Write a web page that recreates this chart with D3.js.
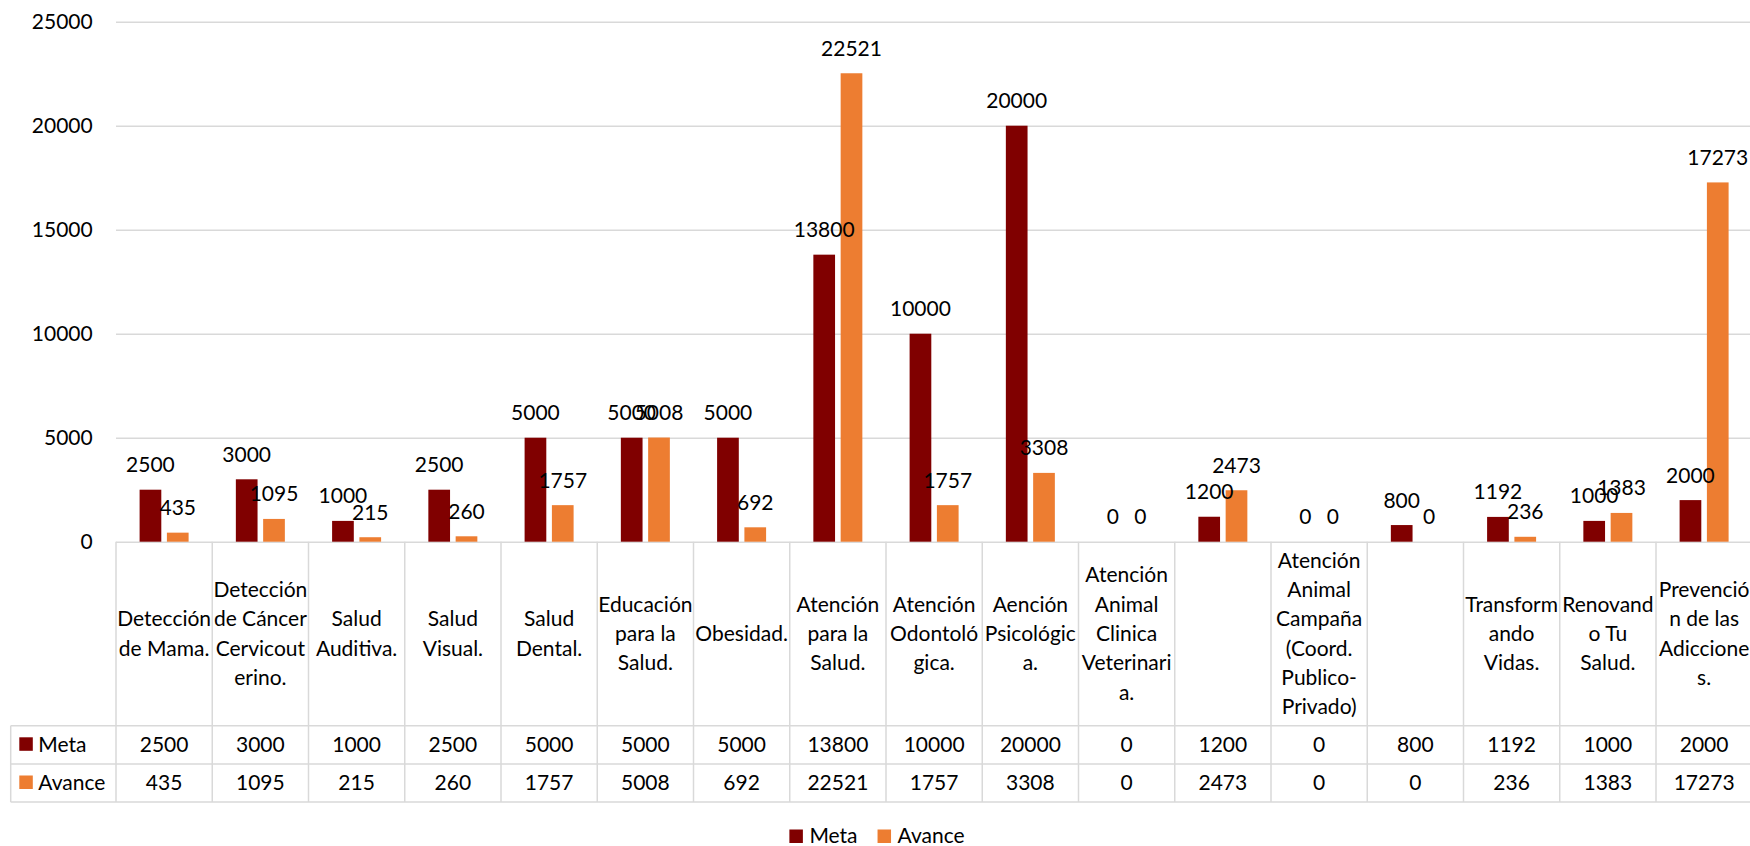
<!DOCTYPE html>
<html>
<head>
<meta charset="utf-8">
<script src="https://cdn.jsdelivr.net/npm/d3@7"></script>
<style>
body { margin: 0; background: #fff; }
svg { display: block; font-family: Lato, "Open Sans", sans-serif; }
</style>
</head>
<body>
<svg id="chart"></svg>
<script>
// category labels, already broken into lines the way the table shows them
const categoryLines = [
	["Detección", "de Mama."],
	["Detección", "de Cáncer", "Cervicout", "erino."],
	["Salud", "Auditiva."],
	["Salud", "Visual."],
	["Salud", "Dental."],
	["Educación", "para la", "Salud."],
	["Obesidad."],
	["Atención", "para la", "Salud."],
	["Atención", "Odontoló", "gica."],
	["Aención", "Psicológic", "a."],
	["Atención", "Animal", "Clinica", "Veterinari", "a."],
	[],
	["Atención", "Animal", "Campaña", "(Coord.", "Publico-", "Privado)"],
	[],
	["Transform", "ando", "Vidas."],
	["Renovand", "o Tu", "Salud."],
	["Prevenció", "n de las", "Adiccione", "s."]
];
const meta = [2500, 3000, 1000, 2500, 5000, 5000, 5000, 13800, 10000, 20000, 0, 1200, 0, 800, 1192, 1000, 2000];
const avance = [435, 1095, 215, 260, 1757, 5008, 692, 22521, 1757, 3308, 0, 2473, 0, 0, 236, 1383, 17273];
const seriesNames = ["Meta", "Avance"];
const seriesColors = ["#800000", "#ED7D31"];
const yTicks = [0, 5000, 10000, 15000, 20000, 25000];

const W = 1750, H = 846;
const plotLeft = 116, plotTop = 21.7, zeroY = 541.7;
const colW = 96.25;
const catBottom = 725.7, rowH = 38.2;
const headLeft = 10.7;
const fontSize = 21;
const gridColor = "#d9d9d9";

const series = [meta, avance];

const svg = d3.select("#chart")
	.attr("width", W)
	.attr("height", H);

const x = d3.scaleBand()
	.domain(d3.range(categoryLines.length))
	.range([plotLeft, plotLeft + colW * categoryLines.length]);

const xs = d3.scaleBand()
	.domain(seriesNames)
	.range([23.6, 72.6])
	.paddingInner(0.205);

const y = d3.scaleLinear()
	.domain([0, 25000])
	.range([zeroY, plotTop]);

// y axis + gridlines
const yAxis = svg.append("g")
	.attr("transform", `translate(${plotLeft},0)`)
	.call(d3.axisLeft(y).tickValues(yTicks).tickSize(-(W - plotLeft)).tickPadding(23.3).tickFormat(d3.format("d")));
yAxis.select(".domain").remove();
yAxis.selectAll(".tick line").attr("stroke", gridColor).attr("stroke-width", 1.4);
yAxis.selectAll(".tick text")
	.attr("fill", "#000")
	.style("font-size", fontSize + "px")
	.style("font-family", "Lato, 'Open Sans', sans-serif");

// bars
const groups = svg.selectAll(".cat")
	.data(categoryLines)
	.enter().append("g")
	.attr("class", "cat")
	.attr("transform", (d, i) => `translate(${x(i)},0)`);

seriesNames.forEach((name, s) => {
	groups.append("rect")
		.attr("x", xs(name))
		.attr("width", xs.bandwidth())
		.attr("y", (d, i) => y(series[s][i]))
		.attr("height", (d, i) => zeroY - y(series[s][i]))
		.attr("fill", seriesColors[s]);
});

// data labels
seriesNames.forEach((name, s) => {
	groups.append("text")
		.attr("x", xs(name) + xs.bandwidth() / 2)
		.attr("y", (d, i) => y(series[s][i]) - 17.5)
		.attr("text-anchor", "middle")
		.style("font-size", fontSize + "px")
		.attr("fill", "#000")
		.text((d, i) => series[s][i]);
});

// data table
const tableBottom = catBottom + rowH * 2;
const lines = svg.append("g").attr("stroke", gridColor).attr("stroke-width", 1.5);
d3.range(categoryLines.length + 1).forEach(i => {
	const xx = plotLeft + i * colW;
	lines.append("line").attr("x1", xx).attr("x2", xx).attr("y1", zeroY).attr("y2", tableBottom);
});
lines.append("line").attr("x1", headLeft).attr("x2", headLeft).attr("y1", catBottom).attr("y2", tableBottom);
[catBottom, catBottom + rowH, tableBottom].forEach(yy => {
	lines.append("line").attr("x1", headLeft).attr("x2", W).attr("y1", yy).attr("y2", yy);
});

// category text, centred in the cell
const catMid = (zeroY + catBottom) / 2;
const lineH = 29.3;
groups.each(function(d) {
	const g = d3.select(this);
	d.forEach((t, k) => {
		g.append("text")
			.attr("x", colW / 2)
			.attr("y", catMid + (k - (d.length - 1) / 2) * lineH)
			.attr("dy", "0.35em")
			.attr("text-anchor", "middle")
			.style("font-size", fontSize + "px")
			.attr("fill", "#000")
			.text(t);
	});
});

// value rows
seriesNames.forEach((name, s) => {
	const mid = catBottom + rowH * s + rowH / 2;
	groups.append("text")
		.attr("x", colW / 2)
		.attr("y", mid)
		.attr("dy", "0.35em")
		.attr("text-anchor", "middle")
		.style("font-size", fontSize + "px")
		.attr("fill", "#000")
		.text((d, i) => series[s][i]);
	svg.append("rect")
		.attr("x", 19.3).attr("y", mid - 7.5)
		.attr("width", 13.5).attr("height", 13.5)
		.attr("fill", seriesColors[s]);
	svg.append("text")
		.attr("x", 38.3).attr("y", mid)
		.attr("dy", "0.35em")
		.style("font-size", fontSize + "px")
		.attr("fill", "#000")
		.text(name);
});

// legend at the bottom
const legend = svg.append("g");
let lx = 0;
seriesNames.forEach((name, s) => {
	legend.append("rect")
		.attr("x", lx).attr("y", 829.5)
		.attr("width", 13.5).attr("height", 13.5)
		.attr("fill", seriesColors[s]);
	const t = legend.append("text")
		.attr("x", lx + 20).attr("y", 843)
		.style("font-size", fontSize + "px")
		.attr("fill", "#000")
		.text(name);
	lx += 20 + t.node().getComputedTextLength() + 20;
});
const legendW = lx - 20;
legend.attr("transform", `translate(${877 - legendW / 2},0)`);
</script>
</body>
</html>
